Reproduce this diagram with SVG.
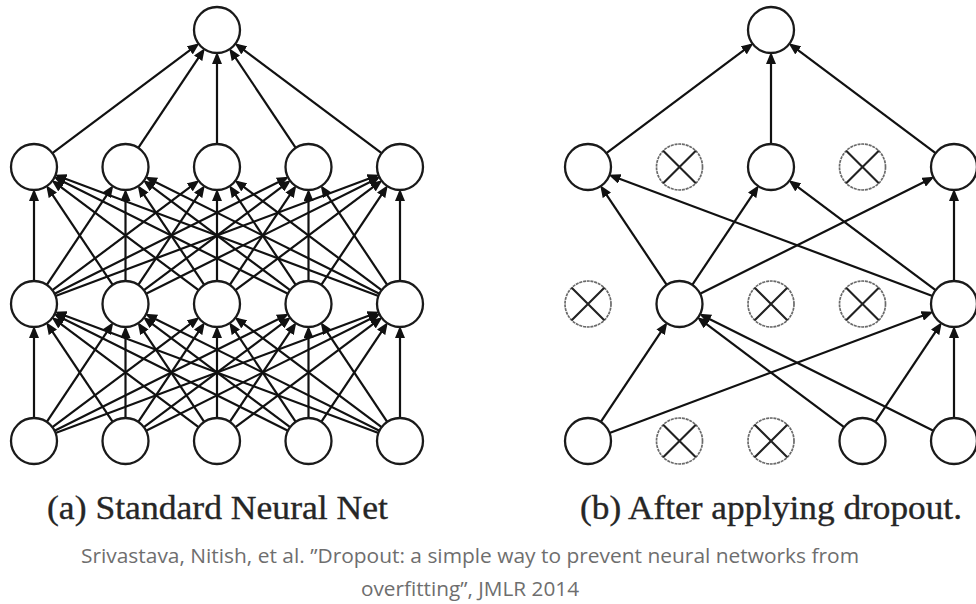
<svg xmlns="http://www.w3.org/2000/svg" width="976" height="604" viewBox="0 0 976 604">
<style>
.n{fill:#fff;stroke:#1a1a1a;stroke-width:2.3}
.d circle{fill:#fff;stroke:#6a6a6a;stroke-width:1.7;stroke-dasharray:3 0.8}
.d path{stroke:#222;stroke-width:2.1;fill:none}
.e line{stroke:#111;stroke-width:2.2;marker-end:url(#ah)}
.cap{font-family:"Liberation Serif","DejaVu Serif",serif;font-size:34px;fill:#262626;stroke:#262626;stroke-width:0.35}
.cit{font-family:"Open Sans","Noto Sans",sans-serif;font-size:19.5px;fill:#6e6e6e}
</style>
<defs>
<marker id="ah" markerUnits="userSpaceOnUse" markerWidth="12" markerHeight="10" refX="9" refY="5" orient="auto">
<path d="M0,0 L12,5 L0,10 z" fill="#111"/>
</marker>
</defs>
<g id="connectors-a" class="e">
<line x1="34" y1="418" x2="34" y2="329"/>
<line x1="46.77" y1="421.87" x2="111.62" y2="324.79"/>
<line x1="52.41" y1="427.22" x2="196.99" y2="318.98"/>
<line x1="54.58" y1="430.73" x2="286.13" y2="315.16"/>
<line x1="55.54" y1="432.94" x2="376.59" y2="312.76"/>
<line x1="112.73" y1="421.87" x2="47.88" y2="324.79"/>
<line x1="125.5" y1="418" x2="125.5" y2="329"/>
<line x1="138.27" y1="421.87" x2="203.12" y2="324.79"/>
<line x1="143.91" y1="427.22" x2="288.49" y2="318.98"/>
<line x1="146.08" y1="430.73" x2="377.63" y2="315.16"/>
<line x1="198.59" y1="427.22" x2="54.01" y2="318.98"/>
<line x1="204.23" y1="421.87" x2="139.38" y2="324.79"/>
<line x1="217" y1="418" x2="217" y2="329"/>
<line x1="229.77" y1="421.87" x2="294.62" y2="324.79"/>
<line x1="235.41" y1="427.22" x2="379.99" y2="318.98"/>
<line x1="287.92" y1="430.73" x2="56.37" y2="315.16"/>
<line x1="290.09" y1="427.22" x2="145.51" y2="318.98"/>
<line x1="295.73" y1="421.87" x2="230.88" y2="324.79"/>
<line x1="308.5" y1="418" x2="308.5" y2="329"/>
<line x1="321.27" y1="421.87" x2="386.12" y2="324.79"/>
<line x1="378.46" y1="432.94" x2="57.41" y2="312.76"/>
<line x1="379.42" y1="430.73" x2="147.87" y2="315.16"/>
<line x1="381.59" y1="427.22" x2="237.01" y2="318.98"/>
<line x1="387.23" y1="421.87" x2="322.38" y2="324.79"/>
<line x1="400" y1="418" x2="400" y2="329"/>

<line x1="34" y1="281" x2="34" y2="192"/>
<line x1="46.77" y1="284.87" x2="111.62" y2="187.79"/>
<line x1="52.41" y1="290.22" x2="196.99" y2="181.98"/>
<line x1="54.58" y1="293.73" x2="286.13" y2="178.16"/>
<line x1="55.54" y1="295.94" x2="376.59" y2="175.76"/>
<line x1="112.73" y1="284.87" x2="47.88" y2="187.79"/>
<line x1="125.5" y1="281" x2="125.5" y2="192"/>
<line x1="138.27" y1="284.87" x2="203.12" y2="187.79"/>
<line x1="143.91" y1="290.22" x2="288.49" y2="181.98"/>
<line x1="146.08" y1="293.73" x2="377.63" y2="178.16"/>
<line x1="198.59" y1="290.22" x2="54.01" y2="181.98"/>
<line x1="204.23" y1="284.87" x2="139.38" y2="187.79"/>
<line x1="217" y1="281" x2="217" y2="192"/>
<line x1="229.77" y1="284.87" x2="294.62" y2="187.79"/>
<line x1="235.41" y1="290.22" x2="379.99" y2="181.98"/>
<line x1="287.92" y1="293.73" x2="56.37" y2="178.16"/>
<line x1="290.09" y1="290.22" x2="145.51" y2="181.98"/>
<line x1="295.73" y1="284.87" x2="230.88" y2="187.79"/>
<line x1="308.5" y1="281" x2="308.5" y2="192"/>
<line x1="321.27" y1="284.87" x2="386.12" y2="187.79"/>
<line x1="378.46" y1="295.94" x2="57.41" y2="175.76"/>
<line x1="379.42" y1="293.73" x2="147.87" y2="178.16"/>
<line x1="381.59" y1="290.22" x2="237.01" y2="181.98"/>
<line x1="387.23" y1="284.87" x2="322.38" y2="187.79"/>
<line x1="400" y1="281" x2="400" y2="192"/>

<line x1="52.41" y1="153.22" x2="196.99" y2="44.98"/>
<line x1="138.27" y1="147.87" x2="203.12" y2="50.79"/>
<line x1="217" y1="144" x2="217" y2="55"/>
<line x1="295.73" y1="147.87" x2="230.88" y2="50.79"/>
<line x1="381.59" y1="153.22" x2="237.01" y2="44.98"/>
</g>
<g id="connectors-b" class="e">
<line x1="606.41" y1="153.22" x2="750.99" y2="44.98"/>
<line x1="771" y1="144" x2="771" y2="55"/>
<line x1="935.59" y1="153.22" x2="791.01" y2="44.98"/>
<line x1="666.73" y1="284.87" x2="601.88" y2="187.79"/>
<line x1="692.27" y1="284.87" x2="757.12" y2="187.79"/>
<line x1="700.08" y1="293.73" x2="931.63" y2="178.16"/>
<line x1="932.46" y1="295.94" x2="611.41" y2="175.76"/>
<line x1="935.59" y1="290.22" x2="791.01" y2="181.98"/>
<line x1="954" y1="281" x2="954" y2="192"/>
<line x1="600.77" y1="421.87" x2="665.62" y2="324.79"/>
<line x1="609.54" y1="432.94" x2="930.59" y2="312.76"/>
<line x1="844.09" y1="427.22" x2="699.51" y2="318.98"/>
<line x1="875.27" y1="421.87" x2="940.12" y2="324.79"/>
<line x1="933.42" y1="430.73" x2="701.87" y2="315.16"/>
<line x1="954" y1="418" x2="954" y2="329"/>
</g>
<g id="net-a">
<g id="a-out"><circle class="n" cx="217" cy="30" r="23"/></g>
<g id="a-h1-0"><circle class="n" cx="34" cy="167" r="23"/></g>
<g id="a-h1-1"><circle class="n" cx="125.5" cy="167" r="23"/></g>
<g id="a-h1-2"><circle class="n" cx="217" cy="167" r="23"/></g>
<g id="a-h1-3"><circle class="n" cx="308.5" cy="167" r="23"/></g>
<g id="a-h1-4"><circle class="n" cx="400" cy="167" r="23"/></g>
<g id="a-h2-0"><circle class="n" cx="34" cy="304" r="23"/></g>
<g id="a-h2-1"><circle class="n" cx="125.5" cy="304" r="23"/></g>
<g id="a-h2-2"><circle class="n" cx="217" cy="304" r="23"/></g>
<g id="a-h2-3"><circle class="n" cx="308.5" cy="304" r="23"/></g>
<g id="a-h2-4"><circle class="n" cx="400" cy="304" r="23"/></g>
<g id="a-in-0"><circle class="n" cx="34" cy="441" r="23"/></g>
<g id="a-in-1"><circle class="n" cx="125.5" cy="441" r="23"/></g>
<g id="a-in-2"><circle class="n" cx="217" cy="441" r="23"/></g>
<g id="a-in-3"><circle class="n" cx="308.5" cy="441" r="23"/></g>
<g id="a-in-4"><circle class="n" cx="400" cy="441" r="23"/></g>
</g>
<g id="net-b">
<g id="b-out"><circle class="n" cx="771" cy="30" r="23"/></g>
<g id="b-h1-0"><circle class="n" cx="588" cy="167" r="23"/></g>
<g id="b-h1-1" class="d"><circle cx="679.5" cy="167" r="23"/><path d="M663.2,150.7 L695.8,183.3 M695.8,150.7 L663.2,183.3"/></g>
<g id="b-h1-2"><circle class="n" cx="771" cy="167" r="23"/></g>
<g id="b-h1-3" class="d"><circle cx="862.5" cy="167" r="23"/><path d="M846.2,150.7 L878.8,183.3 M878.8,150.7 L846.2,183.3"/></g>
<g id="b-h1-4"><circle class="n" cx="954" cy="167" r="23"/></g>
<g id="b-h2-0" class="d"><circle cx="588" cy="304" r="23"/><path d="M571.7,287.7 L604.3,320.3 M604.3,287.7 L571.7,320.3"/></g>
<g id="b-h2-1"><circle class="n" cx="679.5" cy="304" r="23"/></g>
<g id="b-h2-2" class="d"><circle cx="771" cy="304" r="23"/><path d="M754.7,287.7 L787.3,320.3 M787.3,287.7 L754.7,320.3"/></g>
<g id="b-h2-3" class="d"><circle cx="862.5" cy="304" r="23"/><path d="M846.2,287.7 L878.8,320.3 M878.8,287.7 L846.2,320.3"/></g>
<g id="b-h2-4"><circle class="n" cx="954" cy="304" r="23"/></g>
<g id="b-in-0"><circle class="n" cx="588" cy="441" r="23"/></g>
<g id="b-in-1" class="d"><circle cx="679.5" cy="441" r="23"/><path d="M663.2,424.7 L695.8,457.3 M695.8,424.7 L663.2,457.3"/></g>
<g id="b-in-2" class="d"><circle cx="771" cy="441" r="23"/><path d="M754.7,424.7 L787.3,457.3 M787.3,424.7 L754.7,457.3"/></g>
<g id="b-in-3"><circle class="n" cx="862.5" cy="441" r="23"/></g>
<g id="b-in-4"><circle class="n" cx="954" cy="441" r="23"/></g>
</g>
<g id="captions">
<text class="cap" x="47" y="519" textLength="341" lengthAdjust="spacingAndGlyphs">(a) Standard Neural Net</text>
<text class="cap" x="580" y="519" textLength="382" lengthAdjust="spacingAndGlyphs">(b) After applying dropout.</text>
<text class="cit" x="470" y="563" text-anchor="middle" textLength="778" lengthAdjust="spacingAndGlyphs">Srivastava, Nitish, et al. ”Dropout: a simple way to prevent neural networks from</text>
<text class="cit" x="470" y="596" text-anchor="middle" textLength="218" lengthAdjust="spacingAndGlyphs">overfitting”, JMLR 2014</text>
</g>
</svg>
